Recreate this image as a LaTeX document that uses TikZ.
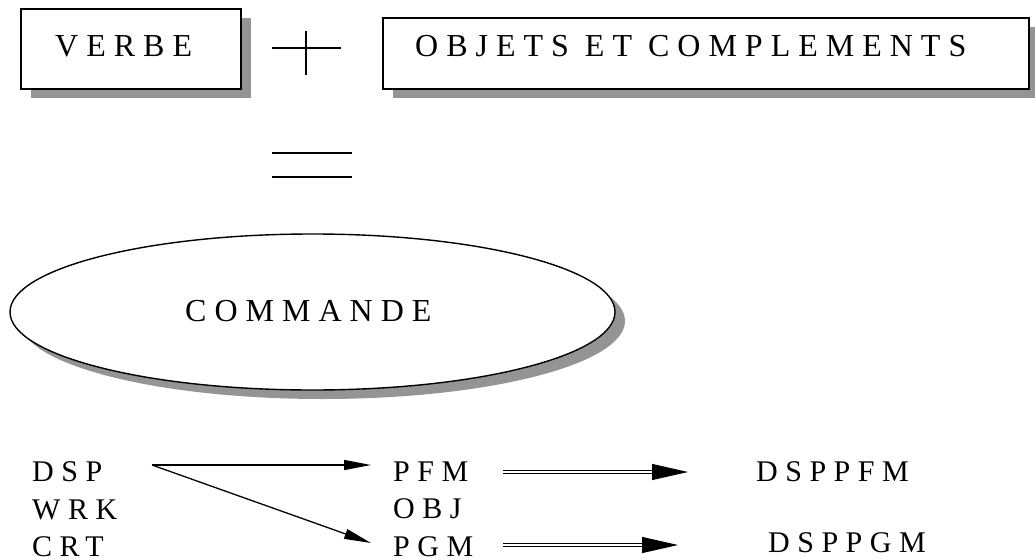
\documentclass[tikz,border=0pt]{standalone}
\usepackage{fontspec}
\setmainfont{Liberation Serif}[LetterSpace=25]
\usetikzlibrary{shapes.geometric,shadows,arrows.meta,calc}
\definecolor{shadowgray}{RGB}{148,148,148}
\begin{document}
\begin{tikzpicture}[x=1pt,y=-1pt,
  shadowed/.style={draw=black,line width=1.4pt,fill=white,
    drop shadow={shadow xshift=10pt,shadow yshift=-9pt,fill=shadowgray,opacity=1}},
  boxshape/.style={shadowed,rectangle,inner sep=0pt},
  ovalshape/.style={shadowed,ellipse,inner sep=0pt},
  bigtxt/.style={inner sep=0pt,anchor=base west,font=\fontsize{32}{38}\selectfont},
  smalltxt/.style={inner sep=0pt,anchor=base west,font=\fontsize{30}{36}\selectfont},
  sign/.style={line width=2.3pt},
  thinarrow/.style={line width=1.3pt,-{Triangle[length=27pt,width=10pt]}},
  dblarrow/.style={line width=1.1pt,double,double distance=1.5pt,
    -{Triangle[length=36pt,width=16pt]}}]
\useasboundingbox (0,0) rectangle (1035,559);

% top row: verb + objects
\node[boxshape,minimum width=220pt,minimum height=80pt] (verbebox) at (131,49) {};
\node[bigtxt] (verbe) at (55,57) {VERBE};
\node[boxshape,minimum width=646pt,minimum height=71pt] (objbox) at (706,53.5) {};
\node[bigtxt] (objets) at (415,57) {OBJETS ET COMPLEMENTS};

% plus sign
\draw[sign] (272,48) -- (341,48);
\draw[sign] (306,31) -- (306,75);

% equals sign
\draw[sign] (272,153) -- (352,153);
\draw[sign] (272,177) -- (352,177);

% result
\node[ovalshape,minimum width=605pt,minimum height=156pt] (commande) at (312.5,312) {};
\node[bigtxt] (cmdtxt) at (185,321) {COMMANDE};

% verbs
\node[smalltxt] (dsp) at (32,481) {DSP};
\node[smalltxt] (wrk) at (32,519) {WRK};
\node[smalltxt] (crt) at (32,556) {CRT};

% objects
\node[smalltxt] (pfm) at (393,481) {PFM};
\node[smalltxt] (obj) at (393,518) {OBJ};
\node[smalltxt] (pgm) at (393,556) {PGM};

% resulting commands
\node[smalltxt] (dsppfm) at (756,481) {DSPPFM};
\node[smalltxt] (dsppgm) at (768,552) {DSPPGM};

% connectors
\coordinate (fork) at ($(dsp.base west)+(120,-16)$);
\draw[thinarrow] (fork) -- ($(pfm.base west)+(-22,-16)$);
\draw[thinarrow] (fork) -- ($(pgm.base west)+(-22,-13)$);
\draw[dblarrow] ($(pfm.base west)+(110,-9)$) -- ($(dsppfm.base west)+(-68,-9)$);
\draw[dblarrow] ($(pgm.base west)+(110,-11)$) -- ($(dsppgm.base west)+(-90,-7)$);
\end{tikzpicture}
\end{document}
